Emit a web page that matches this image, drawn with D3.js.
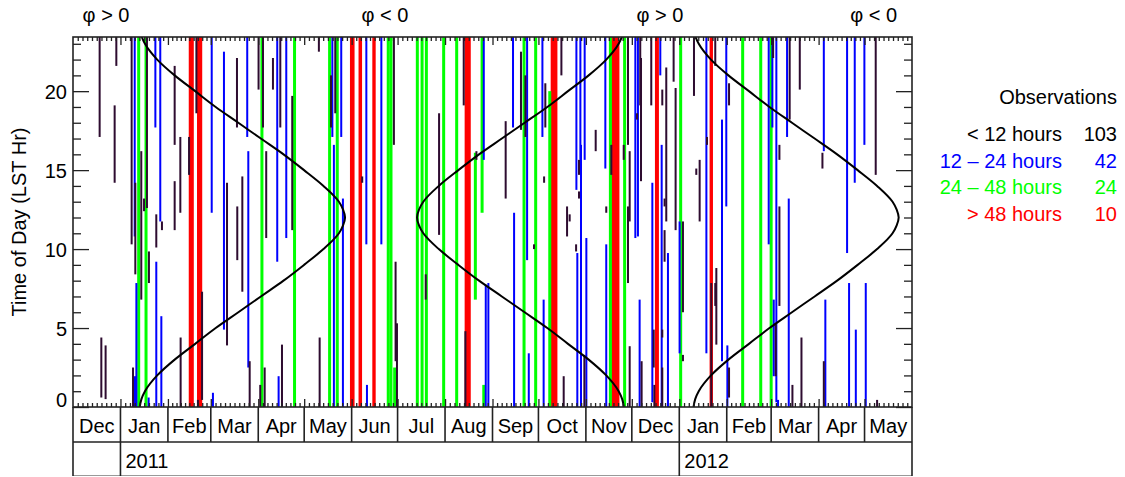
<!DOCTYPE html>
<html>
<head>
<meta charset="utf-8">
<script src="https://cdn.jsdelivr.net/npm/d3@7"></script>
<style>
body { margin: 0; background: #fff; }
svg { display: block; font-family: "Liberation Sans", Arial, Helvetica, sans-serif; }
</style>
</head>
<body>
<svg id="chart" width="1125" height="477"></svg>
<script>

//DONNEES--------------------------------------------------
//day = days since 2010-12-01, lo / hi = LST hours

// < 12 hours
let obsUnder12 = [
  [17.4,17.1,24],[28.3,21.6,24],[27.2,14.2,19.1],[18.5,0.6,4.4],[21.3,0.5,3.9],
  [38.3,10.3,24],[40.7,8.4,14.2],[39.2,0,2.5],[44.6,6.8,16.2],[46.4,12.4,13.2],
  [48.3,12.6,24],[49.6,7.85,9.85],[54.4,10.1,12.2],[58.1,11.2,11.75],[66.4,16.6,21.6],
  [66.4,11.2,14.3],[70.1,12.3,17.1],[70.3,0,4.4],[75.8,14.7,17.1],[80.6,18.6,24],
  [81.6,0,0.45],[84.3,0.45,7.3],[100.6,3.9,14.2],[107.1,17.7,22.1],[107.3,9.3,12.7],
  [110.6,7.3,14.6],[115.4,0,2.9],[121.2,20.1,24],[122.3,0,1.4],[124.1,17.7,24],
  [125.2,0,2.5],[126.2,10.7,16.2],[130.6,20.1,22.1],[135.4,17.7,24],[136.5,0,3.95],
  [143.2,11.2,19.7],[160.6,22.5,24],[161.1,0,4.4],[168.5,17.7,21.0],[171.3,18.6,24],
  [188.9,14.2,14.6],[209.6,16.6,24],[210.7,2.9,9.2],[211.6,0,5.3],[230.4,6.8,8.4],
  [239.1,10.9,18.6],[255.2,19.1,24],[256.3,0,4.8],[263.5,15.65,16.2],[282.6,13.2,18.1],
  [292.6,17.55,22.5],[295.5,17.1,21.0],[301.1,10.0,10.3],[307.7,14.2,14.6],[308.5,17.7,20.5],
  [319.0,21.0,24],[320.5,0,1.95],[322.7,10.8,12.7],[324.4,11.75,12.2],[328.6,9.85,10.3],
  [330.5,14.7,15.65],[330.5,13.2,13.65],[334.0,0,3.3],[341.4,16.2,17.55],[348.3,12.3,12.7],
  [351.6,14.7,16.6],[359.7,15.65,16.6],[362.5,16.6,24],[362.5,7.85,12.7],[363.6,11.75,16.2],
  [363.6,0,3.85],[368.4,18.2,18.6],[370.5,19.1,24],[371.0,14.3,22.1],[371.4,0,2.9],
  [377.7,19.1,24],[379.3,2.5,4.9],[379.7,0,1.4],[384.9,19.1,20.1],[384.9,4.4,4.9],
  [384.9,0,2.5],[386.4,12.7,13.2],[386.4,9.2,11.2],[387.5,11.75,21.5],[392.3,20.6,24],
  [393.6,11.2,20.2],[398.4,6.0,11.75],[398.4,2.9,3.3],[405.6,19.7,24],[407.1,14.7,15.1],
  [409.3,11.75,15.65],[414.1,16.6,17.1],[416.9,0,7.85],[419.5,21.6,24],[419.5,6.4,7.85],
  [420.2,3.95,8.8],[428.5,19.1,20.5],[428.5,0.6,2.5],[457.3,22.1,24],[459.0,1.95,5.3],
  [461.4,15.65,16.6],[461.4,6.4,12.7],[468.1,18.2,24],[469.9,0,1.4],[474.7,20.1,24],
  [475.8,0,4.4],[489.5,15.1,16.1],[490.4,0,2.9],[524.3,14.7,24],[525.2,0,0.45]
];

// 12 - 24 hours
let obs12to24 = [
  [40.3,10.8,24],[41.4,0,7.85],[40.5,0,1.95],[49.4,0,0.6],[53.8,17.7,24],
  [54.4,0,9.2],[57.0,11.75,24],[57.7,0,5.75],[90.6,12.3,24],[91.4,0,0.9],
  [98.6,4.9,22.5],[113.8,17.1,24],[114.5,2.5,16.2],[133.4,9.2,24],[134.3,0,1.95],
  [139.3,10.7,24],[169.4,17.1,24],[170.4,0,16.6],[175.2,17.1,24],[176.3,0,13.2],
  [191.6,10.3,24],[192.0,0,1.4],[201.4,10.3,24],[268.3,15.65,24],[269.6,0,7.75],
  [271.3,0,7.85],[287.4,17.7,24],[288.1,0,12.3],[296.6,9.3,24],[297.7,0,3.4],
  [306.6,17.1,24],[307.4,0,6.8],[328.8,13.75,24],[329.4,0,9.75],[331.4,15.65,24],
  [331.8,0,16.6],[334.2,15.65,24],[335.3,0,10.7],[347.7,15.1,24],[348.3,0,10.3],
  [367.3,10.7,24],[369.0,10.8,24],[370.1,0,6.8],[378.4,0.3,14.2],[383.6,21.0,24],
  [384.5,0,16.6],[388.6,0,9.75],[396.2,3.4,11.75],[413.7,3.4,24],[423.9,2.9,18.2],
  [426.7,12.7,24],[427.4,0,3.9],[454.4,10.3,24],[456.8,17.7,24],[457.7,1.95,6.8],
  [459.4,0.3,24],[460.5,0,0.45],[466.4,17.1,24],[467.5,0,13.2],[490.4,16.2,24],
  [491.4,0,6.8],[505.6,9.75,24],[506.9,0,7.85],[510.6,14.2,24],[511.3,0,4.9],
  [516.9,16.6,24],[517.8,0,7.85]
];

// 24 - 48 hours
let obs24to48 = [
  [42.9,0,24],[47.7,0,24],[123.4,0,24],[144.7,0,24],[167.6,0,24],[172.6,0,24],
  [205.9,0,24],[207.7,0,24],[210.1,0,2.5],[224.9,0,24],[228.0,0,24],[230.8,0,24],
  [242.1,0,24],[250.6,0,24],[262.8,6.8,16.1],[267.2,12.3,24],[268.3,0,1.4],
  [294.6,0,24],[302.2,0,24],[311.4,0,20],[351.0,0,24],[360.3,0,24],[396.9,0,24],
  [437.4,0,24],[449.2,0,24],[456.0,0,24]
];

// > 48 hours : [debut, fin] en jours
let obsOver48 = [
  [75.6,78.9],[81.0,84.4],[180.9,183.9],[186.5,188.8],[195.5,197.7],
  [255.8,259.8],[312.0,316.4],[351.5,356.9],[380.1,382.7],[415.8,418.0]
];

// courbes : [jour, LST]
let curve1 = [
  [43.6,0],[44.7,0.5],[47.0,1],[55.0,2],[66.4,3],[79.8,4],[93.2,5],[108.0,6],[122.7,7],
  [137.5,8],[150.9,9],[163.6,10],[173.7,11],[176.4,11.5],[177.7,12],[176.4,12.5],[173.7,13],
  [163.6,14],[150.9,15],[137.5,16],[122.7,17],[108.0,18],[93.2,19],[79.8,20],[66.4,21],
  [55.0,22],[47.0,23],[44.7,23.5],[43.6,24]
];
let curve2 = [
  [359.8,0],[358.7,0.5],[356.4,1],[348.3,2],[336.8,3],[323.3,4],[309.8,5],[295.0,6],[280.1,7],
  [265.2,8],[251.7,9],[238.9,10],[228.8,11],[226.0,11.5],[224.7,12],[226.0,12.5],[228.8,13],
  [238.9,14],[251.7,15],[265.2,16],[280.1,17],[295.0,18],[309.8,19],[323.3,20],[336.8,21],
  [348.3,22],[356.4,23],[358.7,23.5],[359.8,24]
];
let curve3 = [
  [405.3,0],[406.4,0.5],[408.7,1],[416.7,2],[428.1,3],[441.5,4],[454.9,5],[469.6,6],[484.4,7],
  [499.1,8],[512.5,9],[525.2,10],[535.3,11],[538.0,11.5],[539.3,12],[538.0,12.5],[535.3,13],
  [525.2,14],[512.5,15],[499.1,16],[484.4,17],[469.6,18],[454.9,19],[441.5,20],[428.1,21],
  [416.7,22],[408.7,23],[406.4,23.5],[405.3,24]
];

let legendLabels = ["< 12 hours", "12 \u2013 24 hours", "24 \u2013 48 hours", "> 48 hours"];
let legendCounts = [103, 42, 24, 10];
let legendColors = ["#000000", "#0000ff", "#00ff00", "#ff0000"];

let monthLabels = ["Dec","Jan","Feb","Mar","Apr","May","Jun","Jul","Aug","Sep","Oct","Nov","Dec","Jan","Feb","Mar","Apr","May"];
let yearLabels = ["", "2011", "2012"];
let yTicks = [0, 5, 10, 15, 20];
let phiLabels = ["\u03c6 > 0", "\u03c6 < 0", "\u03c6 > 0", "\u03c6 < 0"];
let phiDays = [21.6, 203.8, 383.4, 522.9];


//ECHELLES-------------------------------------------------

let t0 = Date.UTC(2010, 11, 1);
let jour = d => new Date(t0 + d * 864e5);

let plot = {left: 73, right: 912, top: 37, bottom: 407};
let rowMonth = 442, rowYear = 476;
let frameColor = "#222";
let darkBar = "#2e0c30";

let x = d3.scaleUtc()
  .domain([new Date(Date.UTC(2010, 11, 1)), new Date(Date.UTC(2012, 5, 1))])
  .range([plot.left, plot.right]);
let y = d3.scaleLinear().domain([0, 23.43]).range([plot.bottom, plot.top]);

let svg = d3.select("#chart");

svg.append("defs").append("clipPath").attr("id", "clip")
  .append("rect")
  .attr("x", plot.left).attr("y", plot.top)
  .attr("width", plot.right - plot.left).attr("height", plot.bottom - plot.top);

let g = svg.append("g").attr("clip-path", "url(#clip)");


//BARRES---------------------------------------------------

g.selectAll(".red").data(obsOver48).enter().append("rect")
  .attr("x", d => x(jour(d[0])))
  .attr("width", d => x(jour(d[1])) - x(jour(d[0])))
  .attr("y", y(24)).attr("height", y(0) - y(24))
  .attr("fill", "#ff0000");

let drawBars = function(data, color, w) {
  g.append("g").selectAll("rect").data(data).enter().append("rect")
    .attr("x", d => x(jour(d[0])) - w / 2)
    .attr("width", w)
    .attr("y", d => y(d[2]))
    .attr("height", d => y(d[1]) - y(d[2]))
    .attr("fill", color);
};
drawBars(obs24to48, "#00ff00", 3);
drawBars(obs12to24, "#0000ff", 2);
drawBars(obsUnder12, darkBar, 2);

//Courbes
let line = d3.line()
  .x(d => x(jour(d[0])))
  .y(d => y(d[1]))
  .curve(d3.curveMonotoneY);

[curve1, curve2, curve3].forEach(c => {
  g.append("path").attr("d", line(c))
    .attr("fill", "none").attr("stroke", "#000").attr("stroke-width", 2);
});


//AXES-----------------------------------------------------

let months = d3.utcMonth.range(x.domain()[0], x.domain()[1]);
let bounds = months.concat([x.domain()[1]]);
let minor = [];
for (let i = 0; i < months.length; i++) {
  let a = +bounds[i], b = +bounds[i + 1];
  for (let k = 1; k < 10; k++) minor.push(new Date(a + k * (b - a) / 10));
}

let axisStyle = sel => {
  sel.select(".domain").remove();
  sel.selectAll("line").attr("stroke", frameColor).attr("stroke-width", 1.3);
};

// haut et bas
svg.append("g").attr("transform", "translate(0," + plot.top + ")")
  .call(d3.axisBottom(x).tickValues(months.slice(1)).tickSize(8).tickFormat(""))
  .call(axisStyle);
svg.append("g").attr("transform", "translate(0," + plot.top + ")")
  .call(d3.axisBottom(x).tickValues(minor).tickSize(4).tickFormat(""))
  .call(axisStyle);
svg.append("g").attr("transform", "translate(0," + plot.bottom + ")")
  .call(d3.axisTop(x).tickValues(months.slice(1)).tickSize(8).tickFormat(""))
  .call(axisStyle);
svg.append("g").attr("transform", "translate(0," + plot.bottom + ")")
  .call(d3.axisTop(x).tickValues(minor).tickSize(4).tickFormat(""))
  .call(axisStyle);

// gauche et droite
svg.append("g").attr("transform", "translate(" + plot.left + ",0)")
  .call(d3.axisRight(y).tickValues(yTicks).tickSize(16).tickFormat(""))
  .call(axisStyle);
svg.append("g").attr("transform", "translate(" + plot.left + ",0)")
  .call(d3.axisRight(y).tickValues(d3.range(1, 24).filter(v => v % 5)).tickSize(8).tickFormat(""))
  .call(axisStyle);
svg.append("g").attr("transform", "translate(" + plot.right + ",0)")
  .call(d3.axisLeft(y).tickValues(yTicks).tickSize(16).tickFormat(""))
  .call(axisStyle);
svg.append("g").attr("transform", "translate(" + plot.right + ",0)")
  .call(d3.axisLeft(y).tickValues(d3.range(1, 24).filter(v => v % 5)).tickSize(8).tickFormat(""))
  .call(axisStyle);

svg.append("g").selectAll("text").data(yTicks).enter().append("text")
  .attr("x", 67)
  .attr("y", d => Math.min(y(d) + 7.5, plot.bottom))
  .attr("text-anchor", "end")
  .attr("font-size", 20)
  .text(d => d);

svg.append("text")
  .attr("transform", "translate(26," + (plot.top + plot.bottom) / 2 + ") rotate(-90)")
  .attr("text-anchor", "middle")
  .attr("font-size", 20)
  .text("Time of Day (LST Hr)");

svg.append("g").selectAll("text").data(phiLabels).enter().append("text")
  .attr("x", (d, i) => x(jour(phiDays[i])))
  .attr("y", 22)
  .attr("text-anchor", "middle")
  .attr("font-size", 20)
  .text(d => d);


//CADRE ET RANGEES MOIS / ANNEES---------------------------

let frame = svg.append("g").attr("stroke", frameColor).attr("stroke-width", 1.6).attr("fill", "none");
frame.append("rect")
  .attr("x", plot.left).attr("y", plot.top)
  .attr("width", plot.right - plot.left).attr("height", plot.bottom - plot.top);
frame.append("line").attr("x1", plot.left).attr("x2", plot.right).attr("y1", rowMonth).attr("y2", rowMonth);
frame.append("line").attr("x1", plot.left).attr("x2", plot.right).attr("y1", rowYear - 0.5).attr("y2", rowYear - 0.5)
  .attr("stroke", "#999").attr("stroke-width", 1);
frame.append("line").attr("x1", plot.left).attr("x2", plot.left).attr("y1", plot.bottom).attr("y2", rowYear);
frame.append("line").attr("x1", plot.right).attr("x2", plot.right).attr("y1", plot.bottom).attr("y2", rowYear);

frame.selectAll(".sep").data(months.slice(1)).enter().append("line")
  .attr("x1", d => x(d)).attr("x2", d => x(d))
  .attr("y1", plot.bottom).attr("y2", rowMonth);

let years = d3.utcYear.range(x.domain()[0], x.domain()[1]);
frame.selectAll(".ysep").data(years).enter().append("line")
  .attr("x1", d => x(d)).attr("x2", d => x(d))
  .attr("y1", rowMonth).attr("y2", rowYear);

svg.append("g").selectAll("text").data(months).enter().append("text")
  .attr("x", (d, i) => (x(bounds[i]) + x(bounds[i + 1])) / 2)
  .attr("y", 433)
  .attr("text-anchor", "middle")
  .attr("font-size", 20)
  .text((d, i) => monthLabels[i]);

let yearStarts = [x.domain()[0]].concat(years);
svg.append("g").selectAll("text").data(yearLabels).enter().append("text")
  .attr("x", (d, i) => x(yearStarts[i]) + 5)
  .attr("y", 468)
  .attr("font-size", 20)
  .text(d => d);


//LEGENDE--------------------------------------------------

svg.append("text")
  .attr("x", 1117).attr("y", 104)
  .attr("text-anchor", "end").attr("font-size", 20)
  .text("Observations");

let leg = svg.append("g").selectAll("g").data(legendLabels).enter().append("g")
  .attr("fill", (d, i) => legendColors[i]);
leg.append("text")
  .attr("x", 1062).attr("y", (d, i) => 141 + i * 26.7)
  .attr("text-anchor", "end").attr("font-size", 20)
  .text(d => d);
leg.append("text")
  .attr("x", 1117).attr("y", (d, i) => 141 + i * 26.7)
  .attr("text-anchor", "end").attr("font-size", 20)
  .text((d, i) => legendCounts[i]);

</script>
</body>
</html>
